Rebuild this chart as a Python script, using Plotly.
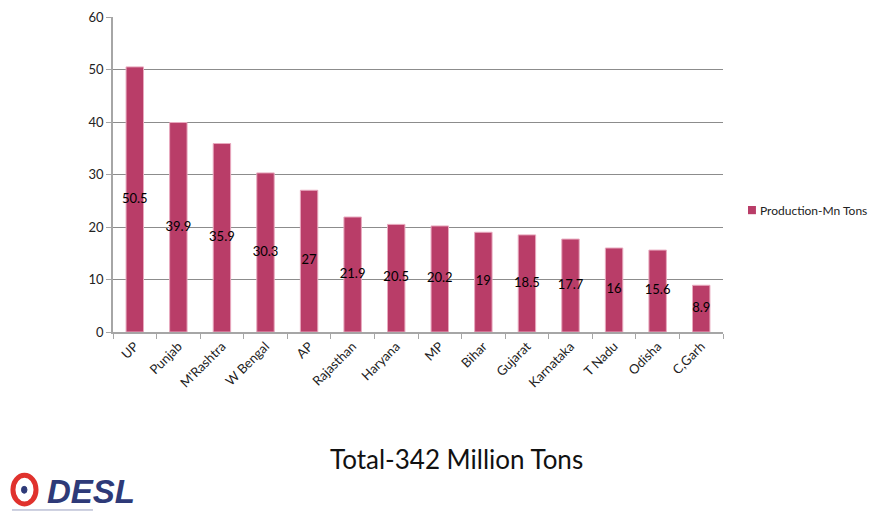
import plotly.graph_objects as go

states = ["UP", "Punjab", "M'Rashtra", "W Bengal", "AP", "Rajasthan", "Haryana",
          "MP", "Bihar", "Gujarat", "Karnataka", "T Nadu", "Odisha", "C,Garh"]
production = [50.5, 39.9, 35.9, 30.3, 27, 21.9, 20.5, 20.2, 19, 18.5, 17.7, 16, 15.6, 8.9]
series_name = "Production-Mn Tons"
y_ticks = [0, 10, 20, 30, 40, 50, 60]

FONT = "Lato, 'Open Sans', sans-serif"
BAR = "#B93D68"

fig = go.Figure()
fig.add_trace(go.Bar(
    x=states, y=production, name=series_name,
    marker=dict(color=BAR, line=dict(color="#E8A9BE", width=1)),
    width=0.4,
    showlegend=False,
    hoverinfo="x+y",
))
# data labels centred in each bar
fig.add_trace(go.Scatter(
    x=states, y=[v / 2 for v in production],
    mode="text", text=[f"{v:g}" for v in production],
    textposition="middle center",
    textfont=dict(color="black", size=13, family=FONT),
    showlegend=False, hoverinfo="skip", cliponaxis=False,
))

# page body has an 8px margin, so the figure is 8px smaller than the window
fig.update_layout(
    width=874, height=519,
    margin=dict(l=105, r=159, t=9, b=195, autoexpand=False),
    paper_bgcolor="white", plot_bgcolor="white",
    font=dict(family=FONT, color="#222"),
    showlegend=False,
    xaxis=dict(
        tickangle=-45, tickfont=dict(size=13, family=FONT, color="#222"),
        showline=True, linecolor="#A6A6A6", linewidth=1.5,
        ticks="outside", ticklen=5, tickcolor="#A6A6A6",
        tickson="boundaries", showgrid=False, automargin=False,
        range=[-0.5, len(states) - 0.5],
    ),
    yaxis=dict(
        range=[0, 60], tickvals=y_ticks,
        tickfont=dict(size=13, family=FONT, color="#222"),
        showline=True, linecolor="#A6A6A6", linewidth=1.5,
        ticks="outside", ticklen=5, tickcolor="#A6A6A6",
        showgrid=True, gridcolor="#8C8C8C", gridwidth=1,
        zeroline=False, automargin=False,
    ),
    annotations=[
        dict(text=series_name, xref="paper", yref="paper",
             x=1.057, y=0.387, xanchor="left", yanchor="middle",
             showarrow=False, font=dict(size=12, family=FONT, color="#222")),
        dict(text="Total-342 Million Tons", xref="paper", yref="paper",
             x=0.563, y=-0.403, xanchor="center", yanchor="middle",
             showarrow=False, font=dict(size=26, family=FONT, color="#111")),
        dict(text="<b><i>DESL</i></b>", xref="paper", yref="paper",
             x=-0.1115, y=-0.505, xanchor="left", yanchor="middle",
             showarrow=False, font=dict(size=33, family="Liberation Sans", color="#2E3A78")),
    ],
    shapes=[
        dict(type="rect", xref="paper", yref="paper",
             x0=1.041, x1=1.054, y0=0.374, y1=0.400,
             line=dict(width=0), fillcolor=BAR),
        dict(type="circle", xref="paper", yref="paper",
             x0=-0.1640, x1=-0.1262, y0=-0.546, y1=-0.455,
             line=dict(color="#E0322D", width=5), fillcolor="white"),
        dict(type="circle", xref="paper", yref="paper",
             x0=-0.1500, x1=-0.1410, y0=-0.512, y1=-0.490,
             line=dict(color="#2E3A78", width=1), fillcolor="#2E3A78"),
        dict(type="line", xref="paper", yref="paper",
             x0=-0.1656, x1=-0.0328, y0=-0.565, y1=-0.565,
             line=dict(color="#9AA0C0", width=1)),
    ],
)

fig.write_html("out.html")
